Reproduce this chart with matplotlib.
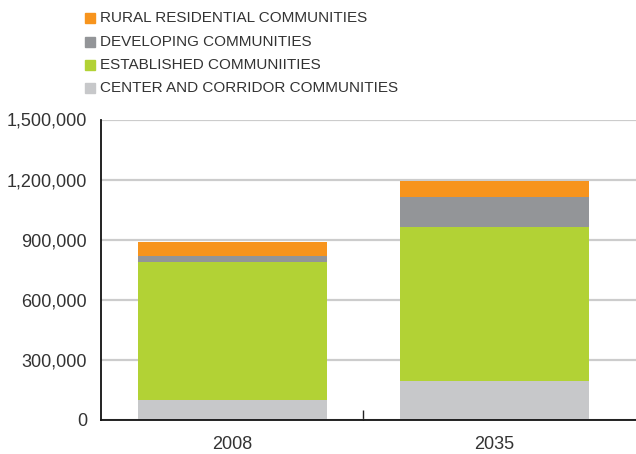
import matplotlib
matplotlib.use("Agg")
import matplotlib.pyplot as plt
from matplotlib.patches import Rectangle
from matplotlib.ticker import FuncFormatter

categories = ["2008", "2035"]
center_corridor = [100000, 193000]
established = [690000, 770000]
developing = [30000, 150000]
rural = [70000, 80000]

series = [
    ("CENTER AND CORRIDOR COMMUNITIES", center_corridor, "#C7C8CA"),
    ("ESTABLISHED COMMUNIITIES", established, "#B2D235"),
    ("DEVELOPING COMMUNITIES", developing, "#939598"),
    ("RURAL RESIDENTIAL COMMUNITIES", rural, "#F7941D"),
]
yticks = [0, 300000, 600000, 900000, 1200000, 1500000]

plt.rcParams['font.family'] = ['Liberation Sans', 'DejaVu Sans']
txt = "#333333"

W, H = 636, 454
fig = plt.figure(figsize=(W / 100, H / 100), dpi=100)
ax = fig.add_axes([101 / W, (H - 419.7) / H, (636 - 101) / W, 300.2 / H])

x = list(range(len(categories)))
bottom = [0] * len(categories)
for name, vals, col in series:
    ax.bar(x, vals, width=0.72, bottom=bottom, color=col, zorder=3, linewidth=0)
    bottom = [b + v for b, v in zip(bottom, vals)]

ax.set_ylim(0, 1500000)
ax.set_xlim(-0.501, 1.541)
ax.set_yticks(yticks)
ax.yaxis.set_major_formatter(FuncFormatter(lambda v, p: f"{int(v):,}"))
ax.set_xticks(x)
ax.set_xticklabels(categories)
ax.set_xticks([0.5], minor=True)
ax.tick_params(axis='x', which='major', length=0, pad=12, labelsize=13, labelcolor=txt)
ax.tick_params(axis='x', which='minor', length=7, direction='in', width=1, color='#222222')
ax.tick_params(axis='y', length=0, pad=10, labelsize=13, labelcolor=txt)
ax.grid(axis='y', color='#CCCCCC', linewidth=1.6, zorder=0)
for s in ['top', 'right']:
    ax.spines[s].set_visible(False)
for s in ['left', 'bottom']:
    ax.spines[s].set_color('#111111')
    ax.spines[s].set_linewidth(1.3)
    ax.spines[s].set_zorder(4)

# legend (manual)
rows = [18.3, 41.7, 65.0, 88.3]
for (name, vals, col), yc in zip(reversed(series), rows):
    fig.patches.append(Rectangle((85 / W, (H - yc - 5) / H), 10 / W, 10 / H,
                                 transform=fig.transFigure, color=col, figure=fig))
    fig.text(100 / W, (H - yc) / H, name, fontsize=11.0, color=txt,
             va='center', ha='left')

fig.savefig("out.png", dpi=100)
